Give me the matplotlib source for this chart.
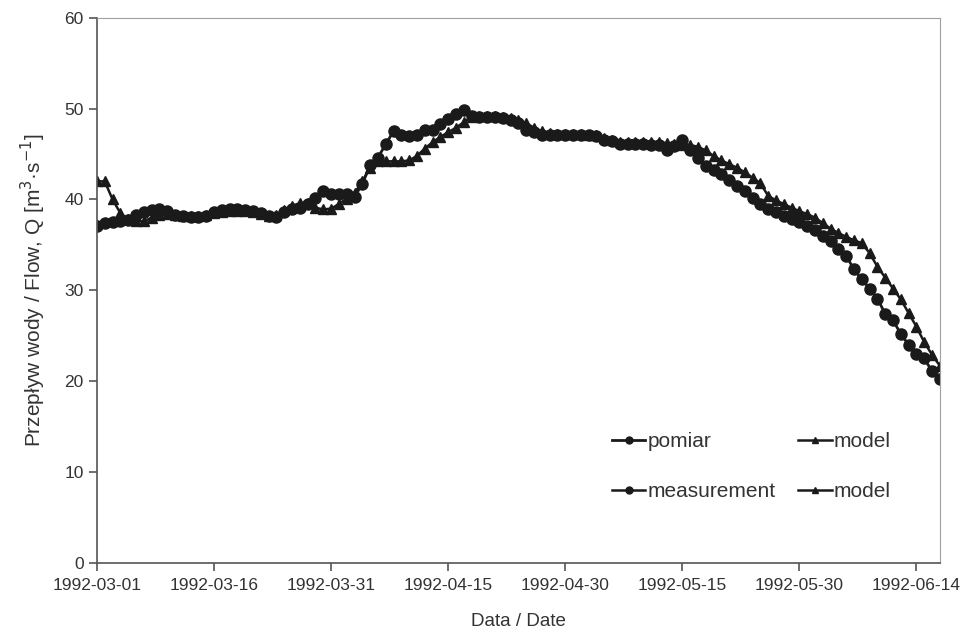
import numpy as np
import pandas as pd
import matplotlib
matplotlib.use("Agg")
import matplotlib.pyplot as plt
import matplotlib.dates as mdates

plt.rcParams['font.family'] = ['Liberation Sans', 'DejaVu Sans']

# daily series 1992-03-01 .. 1992-06-17
dates = pd.date_range("1992-03-01", "1992-06-17", freq="D")

pomiar = [37.1, 37.4, 37.5, 37.6, 37.7, 38.3, 38.6, 38.8, 38.9, 38.7,
          38.3, 38.2, 38.1, 38.1, 38.2, 38.6, 38.8, 38.9, 38.9, 38.8,
          38.7, 38.5, 38.2, 38.1, 38.6, 39.0, 39.1, 39.5, 40.2, 40.9,
          40.6, 40.6, 40.6, 40.3, 41.7, 43.8, 44.6, 46.1, 47.5, 47.1,
          47.0, 47.1, 47.6, 47.7, 48.3, 48.9, 49.4, 49.8, 49.2, 49.1,
          49.1, 49.1, 49.0, 48.8, 48.4, 47.7, 47.4, 47.1, 47.1, 47.1,
          47.1, 47.1, 47.1, 47.1, 47.0, 46.6, 46.4, 46.1, 46.1, 46.1,
          46.1, 46.0, 46.0, 45.4, 45.9, 46.6, 45.4, 44.6, 43.7, 43.3,
          42.8, 42.1, 41.5, 40.9, 40.2, 39.5, 39.0, 38.6, 38.2, 37.9,
          37.5, 37.1, 36.6, 36.0, 35.4, 34.6, 33.8, 32.3, 31.2, 30.2,
          29.1, 27.4, 26.7, 25.2, 24.0, 23.0, 22.5, 21.1, 20.2]

model = [42.0, 42.0, 40.0, 38.5, 37.8, 37.6, 37.6, 38.0, 38.3, 38.4,
         38.3, 38.2, 38.2, 38.2, 38.3, 38.5, 38.6, 38.7, 38.7, 38.7,
         38.6, 38.4, 38.2, 38.3, 38.8, 39.3, 39.6, 39.6, 39.1, 38.9,
         39.0, 39.5, 40.1, 40.7, 42.0, 43.5, 44.2, 44.2, 44.2, 44.2,
         44.3, 44.8, 45.6, 46.3, 46.9, 47.4, 47.9, 48.5, 49.1, 49.2,
         49.2, 49.2, 49.1, 49.0, 48.8, 48.4, 47.9, 47.5, 47.3, 47.2,
         47.2, 47.2, 47.2, 47.1, 47.1, 46.8, 46.5, 46.3, 46.3, 46.3,
         46.3, 46.3, 46.3, 46.2, 46.1, 46.0, 46.0, 45.8, 45.4, 44.8,
         44.3, 43.9, 43.5, 43.0, 42.4, 41.8, 40.4, 39.9, 39.5, 39.1,
         38.7, 38.4, 38.0, 37.4, 36.8, 36.3, 35.9, 35.5, 35.2, 34.1,
         32.6, 31.4, 30.2, 29.0, 27.5, 26.0, 24.3, 22.9, 21.7]

tick_dates = pd.date_range("1992-03-01", "1992-06-14", freq="15D")

fig = plt.figure(figsize=(9.6, 6.36), dpi=100)
ax = fig.add_axes([0.101, 0.115, 0.878, 0.857])

ax.plot(dates, pomiar, color="#1a1a1a", marker="o", markersize=8, lw=2, label="pomiar")
ax.plot(dates, model, color="#1a1a1a", marker="^", markersize=6.5, lw=1.8, label="model")

# second-language legend entries
h1, = ax.plot([], [], color="#1a1a1a", marker="o", markersize=5, lw=1.8, label="measurement")
h2, = ax.plot([], [], color="#1a1a1a", marker="^", markersize=5, lw=1.8, label="model")

ax.set_xlim(dates[0], dates[-1])
ax.set_ylim(0, 60)
ax.set_yticks(range(0, 61, 10))
ax.set_xticks(tick_dates)
ax.xaxis.set_major_formatter(mdates.DateFormatter("%Y-%m-%d"))

for s in ["top", "right"]:
    ax.spines[s].set_color("#a0a0a0")
for s in ["left", "bottom"]:
    ax.spines[s].set_color("#555555")
    ax.spines[s].set_linewidth(1.2)
ax.tick_params(axis="both", colors="#555555", labelcolor="#333333", labelsize=12.5, length=6, width=1.2)
ax.tick_params(axis="x", pad=5)

ax.set_xlabel("Data / Date", fontsize=13.5, color="#333333", labelpad=14)
ax.set_ylabel("Przepływ wody / Flow, Q [m$^3$·s$^{-1}$]", fontsize=15, color="#333333", labelpad=12)

lines = ax.get_lines()
handles = [lines[0], h1, lines[1], h2]
labels = ["pomiar", "measurement", "model", "model"]
leg = ax.legend(handles, labels, ncol=2, loc="upper left", bbox_to_anchor=(0.611, 0.24),
                frameon=False, fontsize=15, handlelength=1.6, handletextpad=0.1,
                labelspacing=1.5, columnspacing=1.1, borderaxespad=0, borderpad=0)
for t in leg.get_texts():
    t.set_color("#333333")
for lh in leg.legend_handles:
    lh.set_markersize(5)

fig.savefig("out.png", dpi=100)
